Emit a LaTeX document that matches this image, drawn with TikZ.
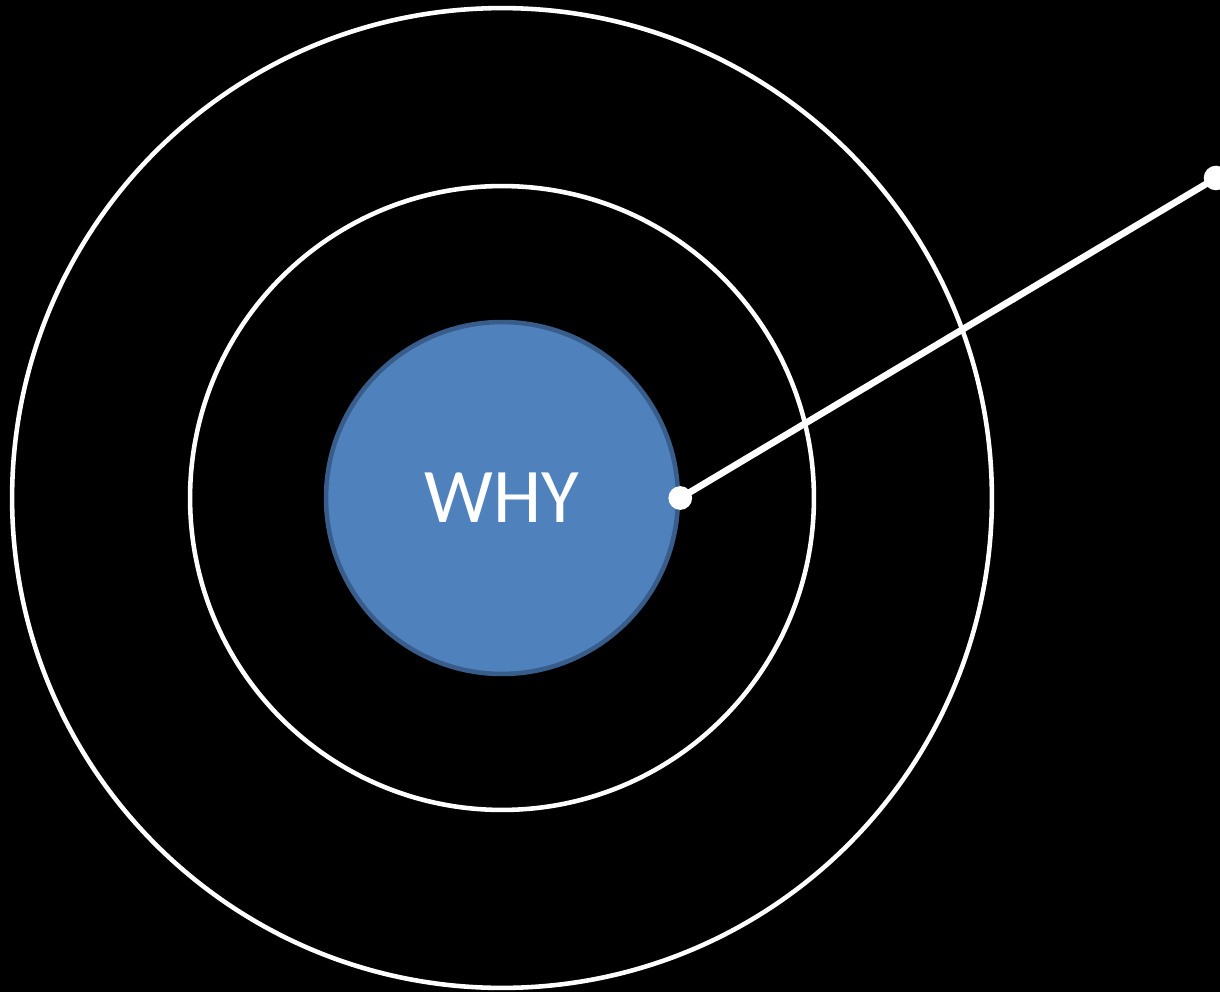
\documentclass[tikz,border=0pt]{standalone}
\usepackage{fontspec}
\setmainfont{Carlito}
\usetikzlibrary{positioning,calc}
\definecolor{whyfill}{HTML}{4F81BD}
\definecolor{whyline}{HTML}{385D8A}
\tikzset{
  ring/.style   ={circle, draw=white, line width=2.6pt, inner sep=0pt},
  core/.style   ={circle, fill=whyfill, draw=whyline, line width=2.6pt, inner sep=0pt,
    text=white, font=\fontsize{44}{50}\selectfont},
  dot/.style    ={circle, fill=white, inner sep=0pt, minimum size=13.5pt},
  pointer/.style={draw=white, line width=3.8pt}}

\begin{document}
\begin{tikzpicture}[x=0.02cm, y=0.02cm]

\fill[black] (0,0) rectangle (1220,992);
\useasboundingbox (0,0) rectangle (1220,992);

% rings
\node[ring, minimum size=19.6cm](outer) at (502,494) {};
\node[ring, minimum size=12.48cm](mid) at (502,494) {};
\node[core, minimum size=7.04cm](why) at (502,494) {WHY};

% pointer
\coordinate (tip) at (1216,814);
\draw[pointer] (why.east) -- (tip);
\node[dot](d1) at (why.east) {};
\node[dot, minimum size=14pt](d2) at (tip) {};

\end{tikzpicture}
\end{document}
